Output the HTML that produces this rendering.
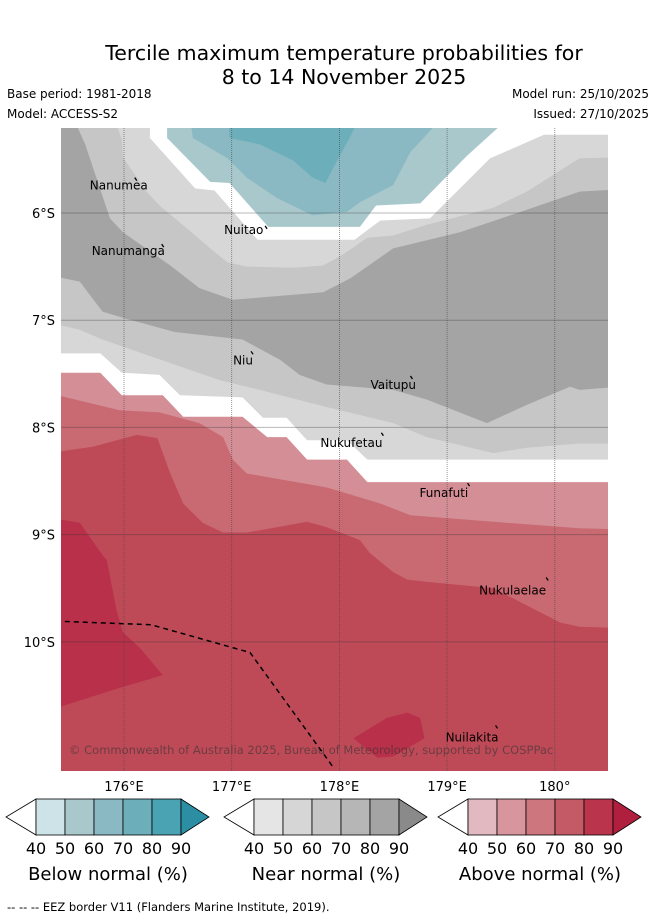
<!DOCTYPE html>
<html><head><meta charset="utf-8">
<style>
html,body{margin:0;padding:0;background:#fff;}
body{width:655px;height:919px;position:relative;overflow:hidden;font-family:"DejaVu Sans","Liberation Sans",sans-serif;}
svg text{font-family:"DejaVu Sans","Liberation Sans",sans-serif;}
</style></head>
<body>
<svg id="fig" width="655" height="919" viewBox="0 0 655 919" xmlns="http://www.w3.org/2000/svg">
  <text x="344" y="60" font-size="20.5" text-anchor="middle" fill="#000">Tercile maximum temperature probabilities for</text>
  <text x="344" y="84" font-size="20.5" text-anchor="middle" fill="#000">8 to 14 November 2025</text>
  <text x="7" y="98" font-size="12">Base period: 1981-2018</text>
  <text x="7" y="118" font-size="12">Model: ACCESS-S2</text>
  <text x="649" y="98" font-size="12" text-anchor="end">Model run: 25/10/2025</text>
  <text x="649" y="118" font-size="12" text-anchor="end">Issued: 27/10/2025</text>
  <defs><clipPath id="mapclip"><rect x="61" y="128" width="547" height="643"/></clipPath></defs>
  <g id="map" clip-path="url(#mapclip)"></g>
  <g id="axes"></g>
  <g id="legend"></g>
  <text x="7" y="911" font-size="11.5">--  --  -- EEZ border V11 (Flanders Marine Institute, 2019).</text>
</svg>
<script>
// ---- map extents ----
const lonMin = 175.415, lonMax = 180.494, latMin = 5.207, latMax = 11.205; // lat in degrees South
const X0 = 61, X1 = 608, Y0 = 128, Y1 = 771;
function xs(lon){ return X0 + (lon - lonMin) / (lonMax - lonMin) * (X1 - X0); }
function ys(lat){ return Y0 + (lat - latMin) / (latMax - latMin) * (Y1 - Y0); }

// ---- tick data ----
const lonTicks = [176, 177, 178, 179, 180];
const lonTickLabels = ["176°E", "177°E", "178°E", "179°E", "180°"];
const latTicks = [6, 7, 8, 9, 10];
const latTickLabels = ["6°S", "7°S", "8°S", "9°S", "10°S"];

// ---- contour boundaries ([lon, latS]) ----
const nearC6Upper = [[175.3,5.1],[175.90,5.1],[175.98,5.31],[175.99,5.48],[176.21,5.80],[176.33,5.93],[176.58,6.14],[176.80,6.33],[176.96,6.46],[177.14,6.50],[177.57,6.51],[177.85,6.49],[178.03,6.39],[178.26,6.23],[178.50,6.21],[178.81,6.11],[179.43,5.95],[179.74,5.80],[180.23,5.49],[180.6,5.48]];
const nearC6Lower = [[175.3,7.02],[175.59,7.09],[175.80,7.18],[176.03,7.26],[176.89,7.56],[177.26,7.65],[177.88,7.81],[178.50,7.96],[178.81,8.09],[179.43,8.24],[179.74,8.19],[180.23,8.15],[180.6,8.15]];
const nearA4Upper = [[175.3,5.1],[175.56,5.1],[175.56,5.18],[175.64,5.36],[175.87,6.05],[175.99,6.18],[176.43,6.49],[176.70,6.70],[177.01,6.81],[177.85,6.74],[178.10,6.61],[178.50,6.33],[179.12,6.18],[179.74,5.97],[180.23,5.80],[180.6,5.78]];
const nearA4Lower = [[175.3,6.58],[175.59,6.64],[175.80,6.92],[176.00,6.98],[176.47,7.11],[177.10,7.18],[177.45,7.37],[177.63,7.51],[177.88,7.60],[178.50,7.65],[178.81,7.74],[179.37,7.96],[179.74,7.79],[180.14,7.62],[180.23,7.65],[180.6,7.62]];
const whiteLower = [[175.3,7.31],[175.78,7.31],[175.98,7.49],[176.33,7.51],[176.52,7.70],[177.10,7.72],[177.29,7.91],[177.51,7.91],[177.70,8.12],[178.07,8.12],[178.26,8.30],[180.6,8.30]];
const above50 = [[175.3,7.49],[175.78,7.49],[175.98,7.70],[176.36,7.70],[176.55,7.90],[177.10,7.90],[177.33,8.09],[177.51,8.09],[177.70,8.30],[178.07,8.30],[178.26,8.51],[180.6,8.51]];
const above60 = [[175.3,7.68],[175.96,7.84],[176.33,7.86],[176.70,7.96],[176.92,8.09],[177.01,8.30],[177.14,8.43],[177.88,8.56],[178.38,8.71],[178.66,8.82],[179.43,8.88],[180.23,8.94],[180.6,8.95]];
const above70 = [[175.3,8.24],[175.71,8.18],[176.12,8.07],[176.31,8.10],[176.43,8.43],[176.55,8.71],[176.73,8.89],[176.92,8.98],[177.14,8.98],[177.70,8.88],[177.88,8.93],[178.19,9.05],[178.28,9.17],[178.50,9.35],[178.63,9.42],[178.81,9.44],[179.43,9.50],[179.74,9.66],[180.05,9.82],[180.23,9.86],[180.6,9.87]];
const above80West = [[175.3,8.84],[175.59,8.89],[175.80,9.19],[175.84,9.24],[175.93,9.70],[175.99,9.91],[176.15,10.06],[176.36,10.31],[175.96,10.43],[175.3,10.64]];
const above80South = [[178.13,10.90],[178.44,10.71],[178.63,10.66],[178.75,10.71],[178.79,10.90],[178.50,11.07],[178.35,11.08]];
const whiteBowl = [[176.24,5.1],[176.24,5.30],[176.66,5.77],[176.84,5.79],[177.24,6.25],[178.14,6.25],[178.38,6.07],[178.84,6.05],[179.40,5.49],[179.90,5.27],[180.6,5.27],[180.6,5.1]];
const below50 = [[176.40,5.1],[176.40,5.30],[176.80,5.71],[176.98,5.72],[177.34,6.13],[178.19,6.13],[178.34,5.93],[178.75,5.91],[179.18,5.47],[179.50,5.18],[179.50,5.1]];
const below60 = [[176.61,5.1],[176.64,5.30],[176.96,5.49],[177.14,5.67],[177.42,5.86],[177.75,6.02],[178.07,5.99],[178.19,5.90],[178.50,5.74],[178.66,5.43],[178.81,5.27],[178.96,5.1]];
const below70 = [[176.97,5.1],[176.98,5.30],[177.26,5.36],[177.57,5.51],[177.75,5.67],[177.87,5.72],[177.98,5.51],[178.10,5.29],[178.19,5.1]];
const eezBorder = [[175.45,9.81],[176.25,9.84],[177.17,10.10],[177.95,11.18]];

// ---- islands ----
const islandNames = ["Nanumea","Nanumanga","Nuitao","Niu","Vaitupu","Nukufetau","Funafuti","Nukulaelae","Nuilakita"];
const islandLon = [176.10,176.35,177.31,177.18,178.66,178.39,179.19,179.92,179.45];
const islandLat = [5.67,6.29,6.12,7.29,7.52,8.05,8.52,9.40,10.78];
const labelDx = [-45,-70,-41,-18,-40,-61,-48,-67,-50];
const labelDy = [12,11,8,13,13,14,14,17,16];

const NS = "http://www.w3.org/2000/svg";
const map = document.getElementById("map");
function mk(tag, attrs, parent){ const e = document.createElementNS(NS, tag); for (const k in attrs) e.setAttribute(k, attrs[k]); parent.appendChild(e); return e; }
function pts(arr){ return arr.map(p => xs(p[0]).toFixed(1) + "," + ys(p[1]).toFixed(1)).join(" "); }
function band(upper, lower){ return pts(upper) + " " + pts(lower.slice().reverse()); }
function toBottom(upper){ return pts(upper) + " " + xs(180.6) + "," + ys(11.4) + " " + xs(175.3) + "," + ys(11.4); }

let e;
e = mk("rect", {x:X0, y:Y0, width:X1-X0, height:Y1-Y0, fill:"#d7d7d7"}, map);


e = mk("polygon", {points: band(nearC6Upper, nearC6Lower), fill:"#c6c6c6"}, map);


e = mk("polygon", {points: band(nearA4Upper, nearA4Lower), fill:"#a4a4a4"}, map);


e = mk("polygon", {points: toBottom(whiteLower), fill:"#ffffff"}, map);


e = mk("polygon", {points: toBottom(above50), fill:"#d48e96"}, map);


e = mk("polygon", {points: toBottom(above60), fill:"#c96a73"}, map);


e = mk("polygon", {points: toBottom(above70), fill:"#bf4a57"}, map);


e = mk("polygon", {points: pts(above80West), fill:"#b8304a"}, map);


e = mk("polygon", {points: pts(above80South), fill:"#b8304a"}, map);


e = mk("polygon", {points: pts(whiteBowl), fill:"#ffffff"}, map);


e = mk("polygon", {points: pts(below50), fill:"#a9c8cc"}, map);


e = mk("polygon", {points: pts(below60), fill:"#8ab9c4"}, map);


e = mk("polygon", {points: pts(below70), fill:"#6cafbb"}, map);



// gridlines
lonTicks.forEach(l => {
  const g = mk("line", {x1:xs(l), x2:xs(l), y1:Y0, y2:Y1, stroke:"#444", "stroke-opacity":"0.7", "stroke-width":"0.8", "stroke-dasharray":"1,1"}, map);
  
  
});
latTicks.forEach(l => {
  const g = mk("line", {x1:X0, x2:X1, y1:ys(l), y2:ys(l), stroke:"#333", "stroke-opacity":"0.35", "stroke-width":"1"}, map);
  
  
});

// EEZ
e = mk("polyline", {points: pts(eezBorder), fill:"none", stroke:"#000", "stroke-width":"1.5", "stroke-dasharray":"5,4"}, map);



// islands
islandNames.forEach((n, i) => {
  const ix = xs(islandLon[i]), iy = ys(islandLat[i]);
  const m = mk("line", {x1:ix, y1:iy, x2:ix+2, y2:iy+3, stroke:"#000", "stroke-width":"1.3"}, map);
  
  
  const t = mk("text", {x:ix+labelDx[i], y:iy+labelDy[i], "font-size":"12", fill:"#000"}, map);
  t.textContent = n;
  
  
});

e = mk("text", {x:69, y:754, "font-size":"11.5", fill:"#333", "fill-opacity":"0.6"}, map);
e.textContent = "© Commonwealth of Australia 2025, Bureau of Meteorology, supported by COSPPac";



// axes labels
const axes = document.getElementById("axes");
latTicks.forEach((l, i) => {
  const t = mk("text", {x:55, y:ys(l)+5, "font-size":"13", "text-anchor":"end"}, axes);
  t.textContent = latTickLabels[i];
  
  
});
lonTicks.forEach((l, i) => {
  const t = mk("text", {x:xs(l), y:791, "font-size":"13", "text-anchor":"middle"}, axes);
  t.textContent = lonTickLabels[i];
  
  
});

// colorbars
const cbTitles = ["Below normal (%)", "Near normal (%)", "Above normal (%)"];
const cbStarts = [36, 254, 468];
const cbNames = ["below-normal-colorbar", "near-normal-colorbar", "above-normal-colorbar"];
const cbColors = [
  ["#cde3e8","#a9c8cc","#8ab9c4","#6cafbb","#4aa3b3","#2b8ea2"],
  ["#e5e5e5","#d6d6d6","#c6c6c6","#b6b6b6","#a4a4a4","#8a8a8a"],
  ["#e2b9c0","#d8959d","#ce767e","#c55a67","#ba354c","#b11f3e"]
];
const cbTicks = ["40","50","60","70","80","90"];
const legend = document.getElementById("legend");
cbStarts.forEach((sx, b) => {
  const g = mk("g", {}, legend);
  
  
  const top = 799, bot = 835, mid = 817, w = 29;
  const l = mk("polygon", {points:`${sx},${top} ${sx-30},${mid} ${sx},${bot}`, fill:"#fff", stroke:"#000", "stroke-width":"0.8"}, g);
  
  
  for (let i = 0; i < 5; i++) {
    const r = mk("rect", {x:sx+i*w, y:top, width:w, height:bot-top, fill:cbColors[b][i], stroke:"#000", "stroke-width":"0.8"}, g);
    
    
  }
  const rx = sx + 5*w;
  const r2 = mk("polygon", {points:`${rx},${top} ${rx+28},${mid} ${rx},${bot}`, fill:cbColors[b][5], stroke:"#000", "stroke-width":"0.8"}, g);
  
  
  cbTicks.forEach((tk, i) => {
    const t = mk("text", {x:sx+i*w, y:854, "font-size":"16", "text-anchor":"middle"}, g);
    t.textContent = tk;
    
    
  });
  const tt = mk("text", {x:sx+72, y:880, "font-size":"18", "text-anchor":"middle"}, g);
  tt.textContent = cbTitles[b];
  
  
});
</script>
</body></html>
